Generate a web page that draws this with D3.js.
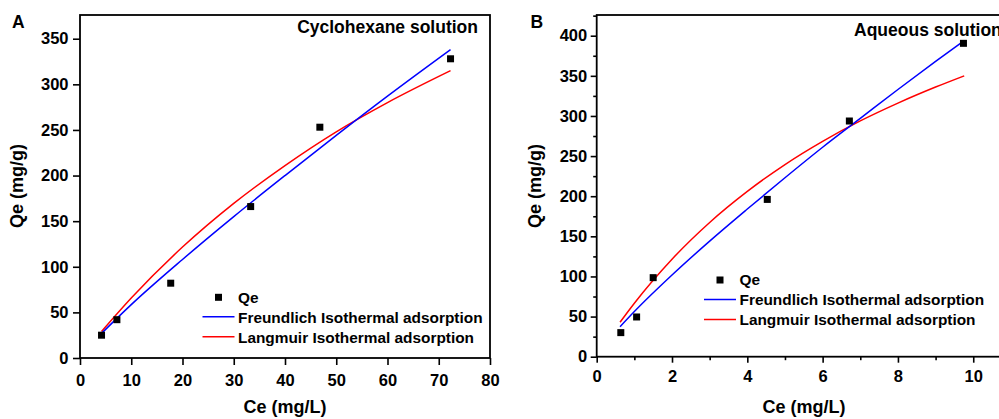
<!DOCTYPE html>
<html>
<head>
<meta charset="utf-8">
<script src="https://cdn.jsdelivr.net/npm/d3@7"></script>
<style>
	html, body { margin: 0; padding: 0; background: #fff; }
	svg { display: block; }
	text { font-family: "Liberation Sans", Arial, sans-serif; font-weight: bold; fill: #000; }
</style>
</head>
<body>
<svg id="chart" width="999" height="419"></svg>
<script>
// ---- panel A : cyclohexane solution ----
var ceA = [4.2, 7.2, 17.7, 33.3, 46.8, 72.3];
var qeA = [25, 42, 82, 166, 253, 328];
var fitCeA = [4.2, 10, 20, 30, 40, 50, 60, 72.3];
var freundA = [27, 58.5, 108, 155, 200, 244, 287, 338];
var langA = [29, 65.7, 121.6, 169.5, 211, 248, 280, 315];
var xTicksA = [0, 10, 20, 30, 40, 50, 60, 70, 80];
var yTicksA = [0, 50, 100, 150, 200, 250, 300, 350];

// ---- panel B : aqueous solution ----
var ceB = [0.64, 1.06, 1.5, 4.53, 6.71, 9.74];
var qeB = [30, 49.5, 98.5, 196, 293.7, 390.5];
var fitCeB = [0.62, 1, 2, 3, 4, 5, 6, 7, 8, 9, 9.76];
var freundB = [37.4, 56.3, 101.8, 144, 184, 223, 261, 297, 333, 368, 394];
var langB = [43, 66.7, 121.5, 167.3, 206, 239.5, 268.4, 293.8, 316, 336, 350];
var xTicksB = [0, 2, 4, 6, 8, 10];
var yTicksB = [0, 50, 100, 150, 200, 250, 300, 350, 400];
var xMinorB = [1, 3, 5, 7, 9, 11];
var yMinorB = [25, 75, 125, 175, 225, 275, 325, 375, 425];

var legendNames = ["Qe", "Freundlich Isothermal adsorption", "Langmuir Isothermal adsorption"];

var svg = d3.select("#chart");

function drawPanel(p) {
	var x = d3.scaleLinear().domain(p.xDomain).range([p.left, p.right]);
	var y = d3.scaleLinear().domain(p.yDomain).range([p.bottom, p.top]);
	var g = svg.append("g");

	// minor ticks (panel B only)
	if (p.xMinor) {
		g.append("g")
			.attr("transform", "translate(0," + p.bottom + ")")
			.call(d3.axisBottom(x).tickValues(p.xMinor).tickSize(3.5).tickFormat(""))
			.call(function(s) { s.select(".domain").remove(); s.selectAll("line").attr("stroke-width", 1.6); });
		g.append("g")
			.attr("transform", "translate(" + p.left + ",0)")
			.call(d3.axisLeft(y).tickValues(p.yMinor).tickSize(3.5).tickFormat(""))
			.call(function(s) { s.select(".domain").remove(); s.selectAll("line").attr("stroke-width", 1.6); });
	}

	var gx = g.append("g")
		.attr("transform", "translate(0," + p.bottom + ")")
		.call(d3.axisBottom(x).tickValues(p.xTicks).tickSize(p.tick).tickPadding(p.xPad).tickSizeOuter(0));
	var gy = g.append("g")
		.attr("transform", "translate(" + p.left + ",0)")
		.call(d3.axisLeft(y).tickValues(p.yTicks).tickSize(p.tick).tickPadding(p.yPad).tickSizeOuter(0));

	[gx, gy].forEach(function(a) {
		a.select(".domain").remove();
		a.selectAll("line").attr("stroke", "#000").attr("stroke-width", 1.6);
		a.selectAll("text")
			.style("font-family", "Liberation Sans, Arial, sans-serif")
			.style("font-weight", "bold")
			.style("font-size", "16.5px")
			.attr("fill", "#000");
	});

	// frame
	g.append("rect")
		.attr("x", p.left).attr("y", p.top)
		.attr("width", p.right - p.left).attr("height", p.bottom - p.top)
		.attr("fill", "none").attr("stroke", "#000").attr("stroke-width", 1.8);

	var line = d3.line()
		.x(function(d) { return x(d[0]); })
		.y(function(d) { return y(d[1]); })
		.curve(d3.curveMonotoneX);

	g.append("path")
		.datum(d3.zip(p.fitCe, p.lang))
		.attr("d", line).attr("fill", "none").attr("stroke", "#ff0000").attr("stroke-width", 1.5);
	g.append("path")
		.datum(d3.zip(p.fitCe, p.freund))
		.attr("d", line).attr("fill", "none").attr("stroke", "#0000ff").attr("stroke-width", 1.5);

	g.selectAll("rect.pt")
		.data(d3.zip(p.ce, p.qe))
		.enter().append("rect")
		.attr("class", "pt")
		.attr("x", function(d) { return x(d[0]) - 3.5; })
		.attr("y", function(d) { return y(d[1]) - 3.5; })
		.attr("width", 7).attr("height", 7)
		.attr("fill", "#000");

	// legend, origin = centre of the Qe marker row
	var lg = g.append("g").attr("transform", "translate(" + p.legX + "," + p.legY + ")");
	lg.append("rect").attr("x", 12.5).attr("y", -3.5).attr("width", 7).attr("height", 7).attr("fill", "#000");
	lg.append("line").attr("x1", 0).attr("x2", 32).attr("y1", 19.5).attr("y2", 19.5)
		.attr("stroke", "#0000ff").attr("stroke-width", 1.5);
	lg.append("line").attr("x1", 0).attr("x2", 32).attr("y1", 39.5).attr("y2", 39.5)
		.attr("stroke", "#ff0000").attr("stroke-width", 1.5);
	lg.selectAll("text")
		.data(legendNames)
		.enter().append("text")
		.attr("x", 35.5)
		.attr("y", function(d, i) { return i * 20 + 5.3; })
		.style("font-size", "15.4px")
		.text(function(d) { return d; });

	// titles
	g.append("text")
		.attr("x", p.titleX).attr("y", p.titleY)
		.attr("text-anchor", p.titleAnchor)
		.style("font-size", "17.5px")
		.text(p.title);
	g.append("text")
		.attr("x", p.tagX).attr("y", 27.7)
		.style("font-size", "17.5px")
		.text(p.tag);
	g.append("text")
		.attr("x", p.xTitleX).attr("y", 413)
		.attr("text-anchor", "middle")
		.style("font-size", "18px")
		.text("Ce (mg/L)");
	g.append("text")
		.attr("transform", "translate(" + p.yTitleX + ",186) rotate(-90)")
		.attr("text-anchor", "middle")
		.style("font-size", "18px")
		.text("Qe (mg/g)");
}

drawPanel({
	left: 80, right: 490, top: 15, bottom: 358,
	xDomain: [0, 80], yDomain: [0, 376],
	xTicks: xTicksA, yTicks: yTicksA, tick: 7, xPad: 9, yPad: 4.5,
	ce: ceA, qe: qeA, fitCe: fitCeA, freund: freundA, lang: langA,
	legX: 202.5, legY: 297.3,
	title: "Cyclohexane solution", titleX: 478, titleY: 33.3, titleAnchor: "end",
	tag: "A", tagX: 12, xTitleX: 285, yTitleX: 23
});

drawPanel({
	left: 596.7, right: 1010.9, top: 15, bottom: 356.7,
	xDomain: [0, 11], yDomain: [0, 425.8],
	xTicks: xTicksB, yTicks: yTicksB, tick: 6, xPad: 7.5, yPad: 3.5,
	xMinor: xMinorB, yMinor: yMinorB,
	ce: ceB, qe: qeB, fitCe: fitCeB, freund: freundB, lang: langB,
	legX: 704, legY: 280,
	title: "Aqueous solution", titleX: 854, titleY: 36, titleAnchor: "start",
	tag: "B", tagX: 530.5, xTitleX: 804, yTitleX: 541
});
</script>
</body>
</html>
